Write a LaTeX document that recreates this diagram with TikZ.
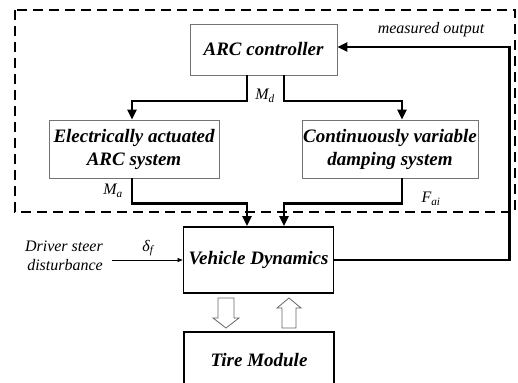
\documentclass[tikz,border=0pt]{standalone}
\usepackage{fontspec}
\setmainfont{Liberation Serif}
\usetikzlibrary{arrows.meta,positioning}

\begin{document}
\begin{tikzpicture}[x=1pt, y=-1pt,
    every node/.style={font=\fontsize{16}{19}\selectfont\itshape},
    block/.style={draw=black!55, line width=0.8pt, inner sep=1pt, align=center,
      font=\fontsize{19}{23}\selectfont\bfseries\itshape},
    mainblock/.style={block, draw=black, line width=1.8pt},
    flow/.style={line width=2.4pt, -{Triangle[length=10pt,width=9pt]}},
    thinflow/.style={line width=0.6pt, -{Triangle[length=5pt,width=4pt]}},
    hollow/.style={draw=black!60, line width=0.8pt, fill=white}]
  \useasboundingbox (0,0) rectangle (518,382);
  \clip (0,0) rectangle (518,382);

  % controller loop
  \draw[line width=2.4pt, dash pattern=on 10pt off 6pt] (15,10) rectangle (515,212);

  \node[block, minimum width=147, minimum height=51] (arc) at (263.5,49.5) {ARC controller};
  \node[block, minimum width=170, minimum height=58] (elec) at (134,149)
    {Electrically actuated\\ARC system};
  \node[block, minimum width=176, minimum height=58] (cvd) at (390,149)
    {Continuously variable\\damping system};
  \node[mainblock, minimum width=150, minimum height=66] (vd) at (258.5,260) {Vehicle Dynamics};
  \node[mainblock, minimum width=150, minimum height=56] (tire) at (259,360) {Tire Module};

  \draw[flow] ([xshift=-16.5pt]arc.south) -- ++(0,25.5) -| ([xshift=-2pt]elec.north);
  \draw[flow] ([xshift=20.5pt]arc.south) -- ++(0,25.5) -| ([xshift=12pt]cvd.north);
  \draw[flow] ([xshift=-2pt]elec.south) -- ++(0,25) -| ([xshift=-11.5pt]vd.north);
  \draw[flow] ([xshift=12pt]cvd.south) -- ++(0,25) -| ([xshift=25.5pt]vd.north);
  \draw[flow] (vd.east) -- ++(175,0) |- ([yshift=2.5pt]arc.east);

  \node (md) at (265,96) {\textit{M}\textsubscript{\textit{d}}};
  \node (ma) at (113,191) {\textit{M}\textsubscript{\textit{a}}};
  \node (fai) at (431,199) {\textit{F}\textsubscript{\textit{ai}}};
  \node (meas) at (431,30) {measured output};

  % driver input
  \node[align=right, anchor=east, inner sep=0pt] (drv) at (103,256) {Driver steer\\disturbance};
  \node (delta) at (148,248) {\textit{δ}\textsubscript{\textit{f}}};
  \draw[thinflow] ([xshift=9pt]drv.east |- vd.west) -- (vd.west);

  % exchange with tire module
  \draw[hollow] (218,298) -- (234,298) -- (234,318) -- (239,318) -- (226,328)
    -- (213,318) -- (218,318) -- cycle;
  \draw[hollow] (282,328) -- (296,328) -- (296,308) -- (301,308) -- (289,298)
    -- (277,308) -- (282,308) -- cycle;
\end{tikzpicture}
\end{document}
